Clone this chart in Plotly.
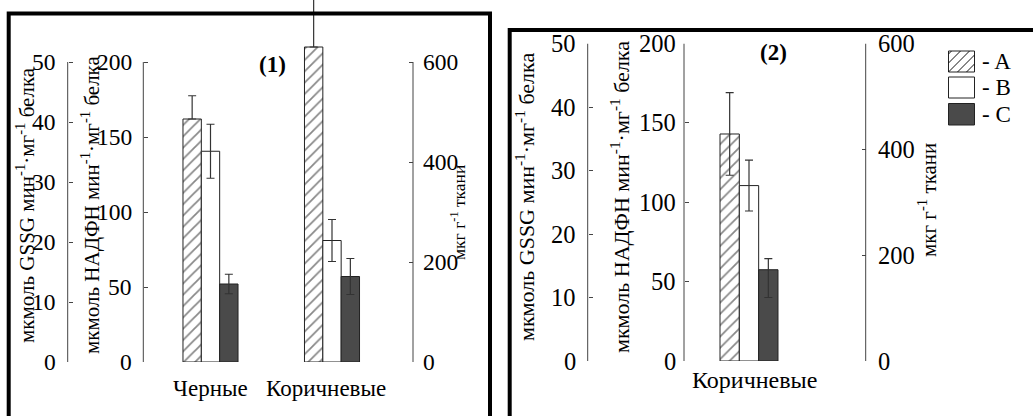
import plotly.graph_objects as go

W, H = 1033, 416

# ---------------- data ----------------
series_names = ["A", "B", "C"]

p1_categories = ["Черные", "Коричневые"]
p1_A = [162, 210]
p1_A_plus = [15.5, 40]
p1_A_minus = [0, 0]
p1_B = [140.5, 81]
p1_B_err = [18, 14]
p1_C = [52, 57]
p1_C_err = [6.5, 12]

p2_categories = ["Коричневые"]
p2_A = [143]
p2_A_err = [26]
p2_B = [110.5]
p2_B_err = [16]
p2_C = [57.5]
p2_C_plus = [7]
p2_C_minus = [17.5]

gssg_ticks = [0, 10, 20, 30, 40, 50]
nadph_ticks = [0, 50, 100, 150, 200]
tissue_ticks = [0, 200, 400, 600]

# ---------------- helpers ----------------
def X(px):
    return px / W

def Y(py):
    return 1 - py / H

FONT = "Liberation Serif"
LINE = "#444444"
HATCH = "#111111"
DARK = "#4a4a4a"

fig = go.Figure()

def bars(x, y, plus, minus, xa, ya, style):
    kw = dict(
        x=x, y=y, xaxis=xa, yaxis=ya, showlegend=False, cliponaxis=False,
        error_y=dict(type="data", symmetric=False, array=plus, arrayminus=minus,
                     color="#333333", thickness=1.2, width=4),
        hoverinfo="skip",
    )
    if style == "A":
        kw["marker"] = dict(color="white", line=dict(color="#222222", width=1),
                            pattern=dict(shape="/", size=8, solidity=0.22,
                                         fgcolor=HATCH, bgcolor="white"))
    elif style == "B":
        kw["marker"] = dict(color="white", line=dict(color="#222222", width=1))
    else:
        kw["marker"] = dict(color=DARK, line=dict(color="#222222", width=1))
    fig.add_trace(go.Bar(**kw))

bars(p1_categories, p1_A, p1_A_plus, p1_A_minus, "x", "y", "A")
bars(p1_categories, p1_B, p1_B_err, p1_B_err, "x", "y", "B")
bars(p1_categories, p1_C, p1_C_err, p1_C_err, "x", "y", "C")

bars(p2_categories, p2_A, p2_A_err, p2_A_err, "x2", "y4", "A")
bars(p2_categories, p2_B, p2_B_err, p2_B_err, "x2", "y4", "B")
bars(p2_categories, p2_C, p2_C_plus, p2_C_minus, "x2", "y4", "C")

# invisible traces so the extra axes exist
for ya, xa in [("y2", "x"), ("y3", "x"), ("y5", "x2"), ("y6", "x2")]:
    fig.add_trace(go.Scatter(x=[None], y=[None], xaxis=xa, yaxis=ya,
                             showlegend=False, hoverinfo="skip"))

def yax(domain, pos, rng, vals, side="left", overlay=None):
    d = dict(domain=domain, anchor="free", position=pos, range=rng,
             tickvals=vals, ticks="inside", ticklen=4, tickcolor=LINE,
             tickwidth=1, showticklabels=False,
             showline=False, showgrid=False, zeroline=False, side=side,
             fixedrange=True)
    if overlay:
        d["overlaying"] = overlay
    return d

# panel 1 plot area extends to the top of the page so the tall bar is not cut
p1_bottom, p1_top200 = 362, 62
k1 = p1_bottom / (p1_bottom - p1_top200)
d1 = [Y(p1_bottom), 1]
d2 = [Y(361), Y(43.5)]

fig.update_layout(
    width=W, height=H,
    margin=dict(l=0, r=0, t=0, b=0),
    paper_bgcolor="white", plot_bgcolor="rgba(0,0,0,0)",
    barmode="group", bargap=0.547, bargroupgap=0,
    font=dict(family=FONT, color="black"),
    showlegend=False,
    xaxis=dict(domain=[X(149.75), X(392.75)], anchor="y", type="category",
               range=[-0.5, 1.5], showline=False, ticks="", showgrid=False,
               zeroline=False, showticklabels=False, fixedrange=True),
    xaxis2=dict(domain=[X(685), X(813)], anchor="y4", type="category",
                range=[-0.5, 0.5], showline=False, ticks="", showgrid=False,
                zeroline=False, showticklabels=False, fixedrange=True),
    yaxis=yax(d1, X(143.3), [0, 200 * k1], nadph_ticks),
    yaxis2=yax(d1, X(67.7), [0, 50 * k1], gssg_ticks, overlay="y"),
    yaxis3=yax(d1, X(413), [0, 600 * k1], tissue_ticks, side="right", overlay="y"),
    yaxis4=yax(d2, X(684), [0, 200], nadph_ticks),
    yaxis5=yax(d2, X(587.7), [0, 50], gssg_ticks, overlay="y4"),
    yaxis6=yax(d2, X(865.7), [0, 600], tissue_ticks, side="right", overlay="y4"),
)

shapes = []
# axis lines, spanning only the labelled range of each axis, plus tick labels
axis_defs = [  # (line x px, yref, ticks, label x px, label anchor, font size)
    (143.3, "y", nadph_ticks, 133.5, "right", 23.5),
    (67.7, "y2", gssg_ticks, 57.5, "right", 23.5),
    (413, "y3", tissue_ticks, 421, "left", 23.5),
    (684, "y4", nadph_ticks, 677.5, "right", 24.5),
    (587.7, "y5", gssg_ticks, 577.5, "right", 24.5),
    (865.7, "y6", tissue_ticks, 876, "left", 24.5),
]
for xpx, ya, vals, lx, anc, fs in axis_defs:
    shapes.append(dict(type="line", xref="paper", yref=ya,
                       x0=X(xpx), x1=X(xpx), y0=0, y1=vals[-1],
                       line=dict(color=LINE, width=1)))
    for v in vals:
        fig.add_annotation(x=X(lx), y=v, xref="paper", yref=ya, text=str(v),
                           showarrow=False, xanchor=anc, yanchor="middle",
                           font=dict(family=FONT, size=fs, color="black"))

# category labels
p1_label_shift = [0, -6]
for cat, sh in zip(p1_categories, p1_label_shift):
    fig.add_annotation(x=cat, y=Y(388), xref="x", yref="paper", text=cat,
                       showarrow=False, xanchor="center", yanchor="middle",
                       xshift=sh,
                       font=dict(family=FONT, size=23, color="black"))
for cat in p2_categories:
    fig.add_annotation(x=cat, y=Y(380), xref="x2", yref="paper", text=cat,
                       showarrow=False, xanchor="center", yanchor="middle",
                       xshift=5,
                       font=dict(family=FONT, size=24, color="black"))

# ---------------- frames ----------------
shapes.append(dict(type="rect", xref="paper", yref="paper",
                   x0=X(8.7), x1=X(490), y0=Y(13.5), y1=Y(440),
                   line=dict(color="black", width=4), fillcolor="rgba(0,0,0,0)"))
shapes.append(dict(type="rect", xref="paper", yref="paper",
                   x0=X(509.7), x1=X(1060), y0=Y(30), y1=Y(440),
                   line=dict(color="black", width=4), fillcolor="rgba(0,0,0,0)"))

# ---------------- legend ----------------
lx0, lx1 = 948.5, 974.5
boxes = [(51, 72), (77, 98), (103.5, 125)]
fills = ["white", "white", DARK]
for (t, b), fc, name in zip(boxes, fills, series_names):
    shapes.append(dict(type="rect", xref="paper", yref="paper",
                       x0=X(lx0), x1=X(lx1), y0=Y(b), y1=Y(t),
                       line=dict(color="#222222", width=1), fillcolor=fc))
    fig.add_annotation(x=X(980), y=Y((t + b) / 2), xref="paper", yref="paper",
                       text="- " + name, showarrow=False, xanchor="left",
                       yanchor="middle",
                       font=dict(family=FONT, size=23, color="black"))

# hatch lines in legend box A
t, b = boxes[0]
h = b - t
step = 9
path = ""
c = lx0 - h + 3
while c < lx1:
    sx = max(c, lx0)
    ex = min(c + h, lx1)
    if ex > sx:
        sy = b - (sx - c)
        ey = b - (ex - c)
        path += f"M{X(sx)},{Y(sy)} L{X(ex)},{Y(ey)} "
    c += step
shapes.append(dict(type="path", xref="paper", yref="paper", path=path,
                   line=dict(color=HATCH, width=1)))

fig.update_layout(shapes=shapes)

# ---------------- titles ----------------
def vtitle(xp, yp, text, size):
    fig.add_annotation(x=X(xp), y=Y(yp), xref="paper", yref="paper",
                       text=text, textangle=-90, showarrow=False,
                       xanchor="center", yanchor="middle",
                       font=dict(family=FONT, size=size, color="black"))

gssg_title = "мкмоль GSSG мин<sup>-1</sup>·мг<sup>-1</sup> белка"
nadph_title = "мкмоль НАДФН мин<sup>-1</sup>·мг<sup>-1</sup> белка"
tissue_title = "мкг г<sup>-1</sup> ткани"

vtitle(25, 205, gssg_title, 21)
vtitle(90, 205, nadph_title, 21)
vtitle(458, 213, tissue_title, 17.5)
vtitle(525, 197, gssg_title, 22)
vtitle(620, 197, nadph_title, 22)
vtitle(927, 200, tissue_title, 21)

fig.add_annotation(x=X(272.5), y=Y(64), xref="paper", yref="paper",
                   text="<b>(1)</b>", showarrow=False,
                   xanchor="center", yanchor="middle",
                   font=dict(family=FONT, size=23, color="black"))
fig.add_annotation(x=X(773), y=Y(52), xref="paper", yref="paper",
                   text="<b>(2)</b>", showarrow=False,
                   xanchor="center", yanchor="middle",
                   font=dict(family=FONT, size=23, color="black"))

fig.write_html(
    "out.html",
    config={"displayModeBar": False, "staticPlot": True},
    post_script="document.body.style.margin='0px';"
                "document.body.style.overflow='hidden';",
)
